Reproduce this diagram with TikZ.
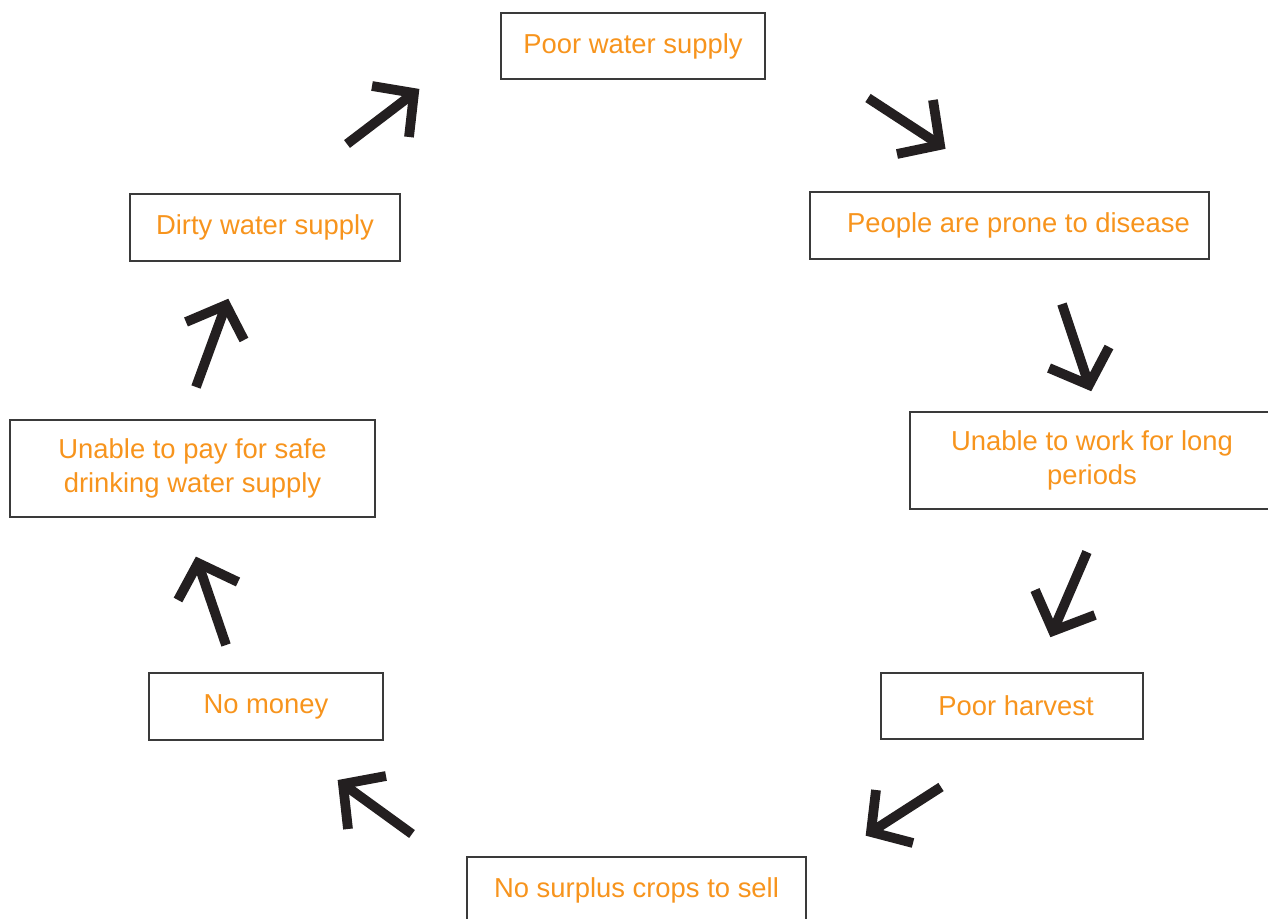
\documentclass[tikz,border=0pt]{standalone}
\usepackage{fontspec}
\setmainfont{Liberation Sans}
\definecolor{txtorange}{HTML}{F7941D}
\definecolor{boxgray}{HTML}{3A3A3A}
\definecolor{arrowblack}{HTML}{231F20}
\tikzset{
  cyclebox/.style={draw=boxgray, line width=0.75pt, rectangle, inner sep=0pt, align=center,
    text=txtorange, font=\fontsize{15.6}{19.8}\selectfont},
  fatarrow/.style={draw=arrowblack, line width=0.195cm, line cap=butt, line join=miter, miter limit=10}
}
\begin{document}
\begin{tikzpicture}[x=0.02cm, y=-0.02cm]
\useasboundingbox (0,0) rectangle (1268,919);
% boxes
\node[cyclebox, minimum width=5.28cm, minimum height=1.32cm] (b1) at (633,46) {Poor water supply};
\node[cyclebox, minimum width=7.98cm, minimum height=1.34cm] (b2) at (1009.5,225.5) {\hspace*{0.36cm}People are prone to disease};
\node[cyclebox, minimum width=7.28cm, minimum height=1.94cm] (b3) at (1092,460.5) {Unable to work for long\\periods};
\node[cyclebox, minimum width=5.24cm, minimum height=1.32cm] (b4) at (1012,706) {\hspace*{0.16cm}Poor harvest};
\node[cyclebox, minimum width=6.78cm, minimum height=1.34cm] (b5) at (636.5,890.5) {No surplus crops to sell};
\node[cyclebox, minimum width=4.68cm, minimum height=1.34cm] (b6) at (266,706.5) {No money};
\node[cyclebox, minimum width=7.30cm, minimum height=1.94cm] (b7) at (192.5,468.5) {Unable to pay for safe\\drinking water supply};
\node[cyclebox, minimum width=5.40cm, minimum height=1.34cm] (b8) at (265,227.5) {Dirty water supply};
% arrow coordinates: tail, vertex, arm ends
\coordinate (a1t) at (347,144); \coordinate (a1v) at (414,93);  \coordinate (a1p) at (372,86);  \coordinate (a1q) at (409,137);
\coordinate (a2t) at (868,98);  \coordinate (a2v) at (940,145); \coordinate (a2p) at (933,100); \coordinate (a2q) at (897,154);
\coordinate (a3t) at (1062,304); \coordinate (a3v) at (1089,385); \coordinate (a3p) at (1109,347); \coordinate (a3q) at (1049,368);
\coordinate (a4t) at (1087,552); \coordinate (a4v) at (1053,631); \coordinate (a4p) at (1035,590); \coordinate (a4q) at (1095,615);
\coordinate (a5t) at (941,787); \coordinate (a5v) at (871,832); \coordinate (a5p) at (876,790); \coordinate (a5q) at (913,843);
\coordinate (a6t) at (412,834); \coordinate (a6v) at (343,784); \coordinate (a6p) at (386,776); \coordinate (a6q) at (348,829);
\coordinate (a7t) at (226,645); \coordinate (a7v) at (198,563); \coordinate (a7p) at (178,600); \coordinate (a7q) at (238,582);
\coordinate (a8t) at (196,387); \coordinate (a8v) at (226,305); \coordinate (a8p) at (186,322); \coordinate (a8q) at (244,340);
\foreach \i in {1,...,8}{
  \draw[fatarrow] (a\i t) -- (a\i v);
  \draw[fatarrow] (a\i p) -- (a\i v) -- (a\i q);
}
\end{tikzpicture}
\end{document}
